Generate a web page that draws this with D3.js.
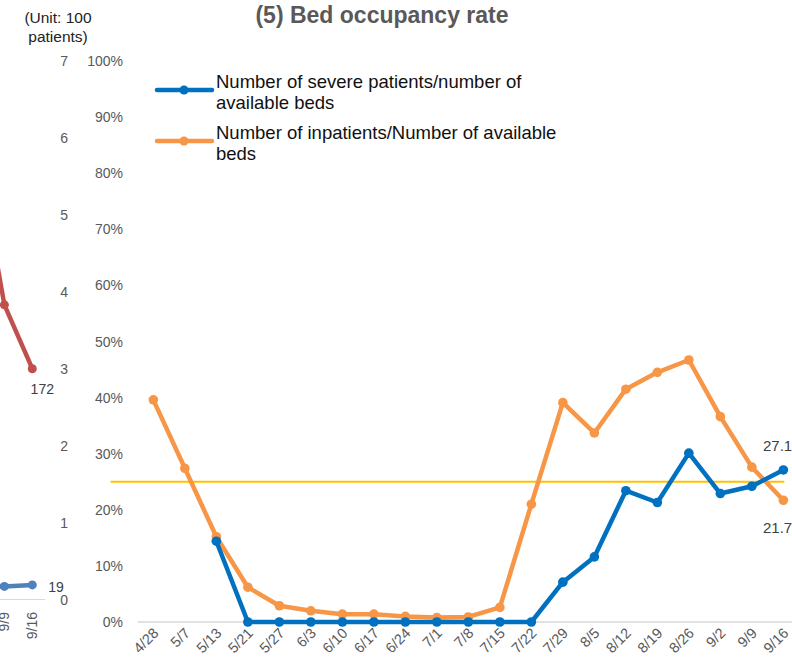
<!DOCTYPE html>
<html>
<head>
<meta charset="utf-8">
<script src="https://cdn.jsdelivr.net/npm/d3@7"></script>
<style>
  html, body { margin: 0; padding: 0; background: #fff; }
  svg { display: block; font-family: "Liberation Sans", Arial, sans-serif; }
</style>
</head>
<body>
<svg id="chart" width="792" height="663"></svg>
<script>
// Données du graphique principal (taux d'occupation des lits, %)
const dates = ['4/28','5/7','5/13','5/21','5/27','6/3','6/10','6/17','6/24','7/1','7/8',
               '7/15','7/22','7/29','8/5','8/12','8/19','8/26','9/2','9/9','9/16'];
const severeRate = [null, null, 14.4, 0, 0, 0, 0, 0, 0, 0, 0,
                    0, 0, 7.1, 11.6, 23.4, 21.3, 30.1, 22.9, 24.2, 27.1];
const inpatientRate = [39.6, 27.4, 15.2, 6.2, 2.9, 2.0, 1.4, 1.4, 1.0, 0.8, 0.9,
                       2.6, 21.0, 39.1, 33.7, 41.5, 44.5, 46.7, 36.6, 27.6, 21.7];
const thresholdRate = 25;
const pctTicks = [0, 10, 20, 30, 40, 50, 60, 70, 80, 90, 100];

// Morceau du graphique voisin (unité : 100 patients), coupé à gauche
const leftDates = ['9/2', '9/9', '9/16'];
const leftRed = [5.85, 3.83, 3.0];
const leftBlue = [0.16, 0.17, 0.19];
const leftTicks = [0, 1, 2, 3, 4, 5, 6, 7];

const svg = d3.select('#chart');
const grey = '#595959';
const blue = '#0070C0';
const orange = '#F79646';

// ---- graphique voisin (partiel) ----
const xL = d3.scalePoint().domain(leftDates).range([-23.5, 32.3]);
const yL = d3.scaleLinear().domain([0, 7]).range([599.5, 61]);

svg.append('line')
  .attr('x1', 0).attr('x2', 45)
  .attr('y1', yL(0)).attr('y2', yL(0))
  .attr('stroke', '#d9d9d9').attr('stroke-width', 1);

const lineL = d3.line().x((d, i) => xL(leftDates[i])).y(d => yL(d));
[[leftRed, '#C0504D'], [leftBlue, '#4F81BD']].forEach(([vals, col]) => {
  svg.append('path').attr('d', lineL(vals))
    .attr('fill', 'none').attr('stroke', col).attr('stroke-width', 4.5)
    .attr('stroke-linejoin', 'round');
  svg.append('g').selectAll('circle').data(vals).join('circle')
    .attr('cx', (d, i) => xL(leftDates[i])).attr('cy', d => yL(d))
    .attr('r', 4.5).attr('fill', col);
});

svg.append('text').attr('x', xL('9/16') + 10).attr('y', yL(3) + 25)
  .attr('text-anchor', 'middle').attr('font-size', 14).attr('fill', '#404040').text('172');
svg.append('text').attr('x', xL('9/16') + 16).attr('y', yL(0.19) + 7)
  .attr('font-size', 14).attr('fill', '#404040').text('19');

svg.append('g').selectAll('text').data(leftDates.slice(1)).join('text')
  .attr('transform', d => `translate(${xL(d) + 5},${612}) rotate(-90)`)
  .attr('text-anchor', 'end').attr('font-size', 14).attr('fill', grey).text(d => d);

svg.append('g').selectAll('text').data(leftTicks).join('text')
  .attr('x', 68).attr('y', d => yL(d) + 5)
  .attr('text-anchor', 'end').attr('font-size', 14).attr('fill', grey).text(d => d);

svg.append('text').attr('x', 58).attr('y', 23).attr('text-anchor', 'middle')
  .attr('font-size', 15.5).attr('fill', '#222').text('(Unit: 100');
svg.append('text').attr('x', 58).attr('y', 42).attr('text-anchor', 'middle')
  .attr('font-size', 15.5).attr('fill', '#222').text('patients)');

// ---- graphique principal ----
const x = d3.scaleBand().domain(dates).range([137.6, 799.1]);
const cx = d => x(d) + x.bandwidth() / 2;
const y = d3.scaleLinear().domain([0, 100]).range([622, 61]);

svg.append('line')
  .attr('x1', x.range()[0]).attr('x2', 792)
  .attr('y1', y(0)).attr('y2', y(0))
  .attr('stroke', '#d9d9d9').attr('stroke-width', 1.5);

svg.append('g').selectAll('text').data(pctTicks).join('text')
  .attr('x', 123).attr('y', d => y(d) + 5)
  .attr('text-anchor', 'end').attr('font-size', 14).attr('fill', grey).text(d => d + '%');

svg.append('g').selectAll('text').data(dates).join('text')
  .attr('transform', d => `translate(${cx(d) + 6},${634}) rotate(-45)`)
  .attr('text-anchor', 'end').attr('font-size', 14.5).attr('fill', grey).text(d => d);

// ligne de seuil jaune
svg.append('line')
  .attr('x1', x.range()[0] - 27).attr('x2', cx(dates[dates.length - 1]) + 1)
  .attr('y1', y(thresholdRate)).attr('y2', y(thresholdRate))
  .attr('stroke', '#FFC000').attr('stroke-width', 2);

const line = d3.line()
  .defined(d => d != null)
  .x((d, i) => cx(dates[i]))
  .y(d => y(d));

[[inpatientRate, orange], [severeRate, blue]].forEach(([vals, col]) => {
  svg.append('path').attr('d', line(vals))
    .attr('fill', 'none').attr('stroke', col).attr('stroke-width', 4.5)
    .attr('stroke-linejoin', 'round');
  svg.append('g').selectAll('circle')
    .data(vals.map((v, i) => ({ v, d: dates[i] })).filter(p => p.v != null))
    .join('circle')
    .attr('cx', p => cx(p.d)).attr('cy', p => y(p.v))
    .attr('r', 4.8).attr('fill', col);
});

// étiquettes de la dernière valeur
const last = dates.length - 1;
svg.append('text').attr('x', 763).attr('y', y(severeRate[last]) - 19)
  .attr('font-size', 15).attr('fill', '#404040').text(severeRate[last].toFixed(1) + '%');
svg.append('text').attr('x', 763).attr('y', y(inpatientRate[last]) + 33)
  .attr('font-size', 15).attr('fill', '#404040').text(inpatientRate[last].toFixed(1) + '%');

// titre
svg.append('text').attr('x', 382).attr('y', 23).attr('text-anchor', 'middle')
  .attr('font-size', 23).attr('font-weight', 'bold').attr('fill', grey)
  .text('(5) Bed occupancy rate');

// légende
const legend = [
  { col: blue, lines: ['Number of severe patients/number of', 'available beds'], y: 90 },
  { col: orange, lines: ['Number of inpatients/Number of available', 'beds'], y: 141 }
];
legend.forEach(l => {
  svg.append('line').attr('x1', 157).attr('x2', 212).attr('y1', l.y).attr('y2', l.y)
    .attr('stroke', l.col).attr('stroke-width', 4.5).attr('stroke-linecap', 'round');
  svg.append('circle').attr('cx', 184).attr('cy', l.y).attr('r', 4.5).attr('fill', l.col);
  l.lines.forEach((t, i) => {
    svg.append('text').attr('x', 216).attr('y', l.y - 2 + i * 21)
      .attr('font-size', 18.5).attr('fill', '#111').text(t);
  });
});
</script>
</body>
</html>
